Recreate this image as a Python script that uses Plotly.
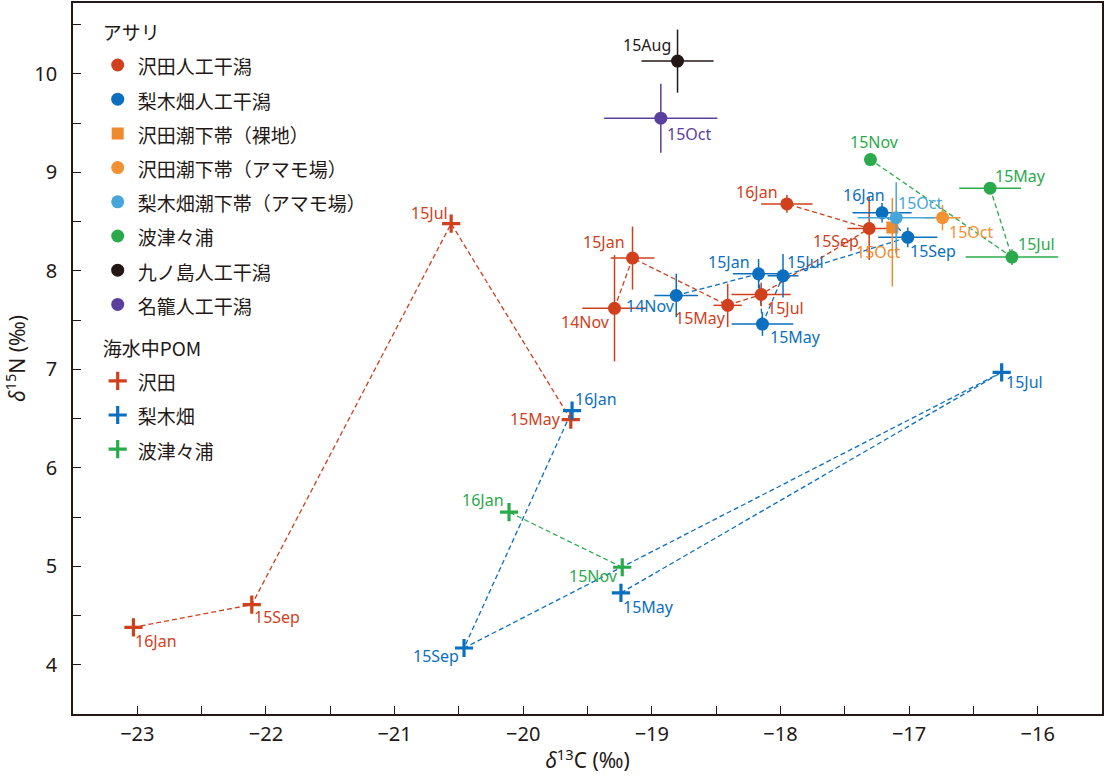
import plotly.graph_objects as go

# ---------------- data (δ13C, δ15N) ----------------
# アサリ (clams)
sawada_dates = ["14Nov", "15Jan", "15May", "15Jul", "15Sep", "16Jan"]
sawada_c = [-19.29, -19.15, -18.41, -18.15, -17.31, -17.95]
sawada_n = [7.62, 8.13, 7.65, 7.76, 8.43, 8.68]
sawada_c_err = [0.25, 0.17, 0.11, 0.23, 0.17, 0.20]
sawada_n_err = [0.54, 0.32, 0.22, 0.12, 0.32, 0.09]

nashi_dates = ["14Nov", "15Jan", "15May", "15Jul", "15Sep", "16Jan"]
nashi_c = [-18.81, -18.17, -18.14, -17.98, -17.01, -17.21]
nashi_n = [7.75, 7.97, 7.46, 7.95, 8.34, 8.59]
nashi_c_err = [0.17, 0.20, 0.24, 0.12, 0.23, 0.23]
nashi_n_err = [0.22, 0.15, 0.12, 0.22, 0.10, 0.10]

sawada_bare_dates = ["15Oct"]
sawada_bare_c = [-17.13]
sawada_bare_n = [8.44]
sawada_bare_c_err = [0.05]
sawada_bare_n_err_plus = [0.30]
sawada_bare_n_err_minus = [0.60]

sawada_eel_dates = ["15Oct"]
sawada_eel_c = [-16.74]
sawada_eel_n = [8.54]
sawada_eel_c_err = [0.14]
sawada_eel_n_err = [0.13]

nashi_eel_dates = ["15Oct"]
nashi_eel_c = [-17.10]
nashi_eel_n = [8.54]
nashi_eel_c_err = [0.30]
nashi_eel_n_err = [0.36]

hatsu_dates = ["15May", "15Jul", "15Nov"]
hatsu_c = [-16.37, -16.20, -17.30]
hatsu_n = [8.84, 8.14, 9.13]
hatsu_c_err = [0.24, 0.36, 0.0]
hatsu_n_err = [0.0, 0.08, 0.0]

kuno_dates = ["15Aug"]
kuno_c = [-18.80]
kuno_n = [10.13]
kuno_c_err = [0.28]
kuno_n_err = [0.32]

nago_dates = ["15Oct"]
nago_c = [-18.93]
nago_n = [9.55]
nago_c_err = [0.44]
nago_n_err = [0.35]

# 海水中POM
pom_sawada_dates = ["15May", "15Jul", "15Sep", "16Jan"]
pom_sawada_c = [-19.63, -20.56, -22.11, -23.03]
pom_sawada_n = [6.49, 8.48, 4.61, 4.38]

pom_nashi_dates = ["15May", "15Jul", "15Sep", "16Jan"]
pom_nashi_c = [-19.24, -16.28, -20.46, -19.62]
pom_nashi_n = [4.73, 6.97, 4.17, 6.58]

pom_hatsu_dates = ["15Nov", "16Jan"]
pom_hatsu_c = [-19.23, -20.11]
pom_hatsu_n = [4.99, 5.55]

# ---------------- styles ----------------
RED = "#D0401C"
BLUE = "#0B6FBF"
ORANGE_SQ = "#F08A2E"
ORANGE = "#F39235"
LBLUE = "#46A6D9"
GREEN = "#2BAA4C"
BLACK = "#231815"
PURPLE = "#5B3F9E"

# label offsets in px (dx right, dy up) per point
off_sawada = [(-29, -14), (-29, 16), (-27, -13), (24, -14), (-33, -12), (-30, 12)]
off_nashi = [(-26, -11), (-30, 12), (33, -13), (22, 14), (25, -14), (-18, 18)]
off_sawada_bare = [(-14, -24)]
off_sawada_eel = [(28, -14)]
off_nashi_eel = [(24, 15)]
off_hatsu = [(30, 12), (25, 13), (4, 18)]
off_kuno = [(-31, 16)]
off_nago = [(28, -16)]
off_pom_sawada = [(-35, 1), (-22, 11), (25, -12), (23, -14)]
off_pom_nashi = [(28, -14), (23, -10), (-28, -8), (24, 12)]
off_pom_hatsu = [(-29, -9), (-26, 12)]

LEG_FS = 19


def leg(t):
    return f'<span style="font-size:{LEG_FS}px">{t}</span>'


fig = go.Figure()
annotations = []

G1 = "asari"
G2 = "pom"
G1_TITLE = dict(text=leg("アサリ"), font=dict(size=24, color="#231815"))
G2_TITLE = dict(text=leg("海水中POM"), font=dict(size=24, color="#231815"))


def add_line(c, n, color, group, gtitle):
    fig.add_trace(go.Scatter(
        x=c, y=n, mode="lines", showlegend=False, hoverinfo="skip",
        legendgroup=group, legendgrouptitle=gtitle,
        line=dict(color=color, width=1.3, dash="5px,3px")))


def add_labels(c, n, dates, offs, color):
    for xi, yi, d, (dx, dy) in zip(c, n, dates, offs):
        annotations.append(dict(
            x=xi, y=yi, text=d, showarrow=False, xanchor="center", yanchor="middle",
            xshift=dx, yshift=dy, font=dict(size=16, color=color,
                                             family="Noto Sans, Noto Sans CJK JP")))


def add_clam(name, c, n, ce, ne, color, symbol="circle", ne_minus=None):
    ey = dict(type="data", array=ne, color=color, thickness=1.5, width=0)
    if ne_minus is not None:
        ey["symmetric"] = False
        ey["arrayminus"] = ne_minus
    fig.add_trace(go.Scatter(
        x=c, y=n, mode="markers", name=leg(name),
        legendgroup=G1, legendgrouptitle=G1_TITLE,
        marker=dict(color=color, size=13 if symbol == "circle" else 12, symbol=symbol,
                    line=dict(width=0)),
        error_x=dict(type="data", array=ce, color=color, thickness=1.5, width=0),
        error_y=ey))


def add_pom(name, c, n, color):
    fig.add_trace(go.Scatter(
        x=c, y=n, mode="markers", name=leg(name),
        legendgroup=G2, legendgrouptitle=G2_TITLE,
        marker=dict(symbol="cross-thin", size=13, color=color,
                    line=dict(width=3.2, color=color))))


# lines (beneath markers)
add_line(sawada_c, sawada_n, RED, G1, G1_TITLE)
add_line(nashi_c, nashi_n, BLUE, G1, G1_TITLE)
add_line(hatsu_c, hatsu_n, GREEN, G1, G1_TITLE)
add_line(pom_sawada_c, pom_sawada_n, RED, G2, G2_TITLE)
add_line(pom_nashi_c, pom_nashi_n, BLUE, G2, G2_TITLE)
add_line(pom_hatsu_c, pom_hatsu_n, GREEN, G2, G2_TITLE)

# clam markers
add_clam("沢田人工干潟", sawada_c, sawada_n, sawada_c_err, sawada_n_err, RED)
add_clam("梨木畑人工干潟", nashi_c, nashi_n, nashi_c_err, nashi_n_err, BLUE)
add_clam("沢田潮下帯（裸地）", sawada_bare_c, sawada_bare_n, sawada_bare_c_err,
         sawada_bare_n_err_plus, ORANGE_SQ, symbol="square", ne_minus=sawada_bare_n_err_minus)
add_clam("沢田潮下帯（アマモ場）", sawada_eel_c, sawada_eel_n, sawada_eel_c_err, sawada_eel_n_err, ORANGE)
add_clam("梨木畑潮下帯（アマモ場）", nashi_eel_c, nashi_eel_n, nashi_eel_c_err, nashi_eel_n_err, LBLUE)
add_clam("波津々浦", hatsu_c, hatsu_n, hatsu_c_err, hatsu_n_err, GREEN)
add_clam("九ノ島人工干潟", kuno_c, kuno_n, kuno_c_err, kuno_n_err, BLACK)
add_clam("名籠人工干潟", nago_c, nago_n, nago_c_err, nago_n_err, PURPLE)

# POM markers
add_pom("沢田", pom_sawada_c, pom_sawada_n, RED)
add_pom("梨木畑", pom_nashi_c, pom_nashi_n, BLUE)
add_pom("波津々浦", pom_hatsu_c, pom_hatsu_n, GREEN)

# labels
add_labels(sawada_c, sawada_n, sawada_dates, off_sawada, RED)
add_labels(nashi_c, nashi_n, nashi_dates, off_nashi, BLUE)
add_labels(sawada_bare_c, sawada_bare_n, sawada_bare_dates, off_sawada_bare, ORANGE_SQ)
add_labels(sawada_eel_c, sawada_eel_n, sawada_eel_dates, off_sawada_eel, ORANGE)
add_labels(nashi_eel_c, nashi_eel_n, nashi_eel_dates, off_nashi_eel, LBLUE)
add_labels(hatsu_c, hatsu_n, hatsu_dates, off_hatsu, GREEN)
add_labels(kuno_c, kuno_n, kuno_dates, off_kuno, BLACK)
add_labels(nago_c, nago_n, nago_dates, off_nago, PURPLE)
add_labels(pom_sawada_c, pom_sawada_n, pom_sawada_dates, off_pom_sawada, RED)
add_labels(pom_nashi_c, pom_nashi_n, pom_nashi_dates, off_pom_nashi, BLUE)
add_labels(pom_hatsu_c, pom_hatsu_n, pom_hatsu_dates, off_pom_hatsu, GREEN)

axis_common = dict(
    showline=True, linecolor="#231815", linewidth=1.5, mirror=True,
    ticks="inside", ticklen=8, tickwidth=1.2, tickcolor="#231815",
    showgrid=False, zeroline=False, automargin=False,
    tickfont=dict(size=20, color="#231815", family="Noto Sans, Noto Sans CJK JP"),
    minor=dict(dtick=0.5, ticks="inside", ticklen=8, tickwidth=1.2, tickcolor="#231815",
               showgrid=False),
)

fig.update_layout(
    width=1106, height=781,
    margin=dict(l=73, r=4, t=3, b=67),
    paper_bgcolor="white", plot_bgcolor="white",
    font=dict(family="Noto Sans CJK JP, Noto Sans", color="#231815"),
    xaxis=dict(range=[-23.5, -15.5], dtick=1, tick0=-23,
               title=dict(text="<i>δ</i><sup>13</sup>C (‰)", standoff=8,
                          font=dict(size=21, family="Noto Sans, Noto Sans CJK JP")),
               ticklabelstandoff=1, **axis_common),
    yaxis=dict(range=[3.5, 10.72], dtick=1, tick0=4,
               title=dict(text="<i>δ</i><sup>15</sup>N (‰)", standoff=6,
                          font=dict(size=21, family="Noto Sans, Noto Sans CJK JP")),
               ticklabelstandoff=10, **axis_common),
    legend=dict(x=0.024, y=0.992, xanchor="left", yanchor="top",
                bgcolor="rgba(0,0,0,0)", font=dict(size=24, color="#231815"),
                tracegroupgap=8, itemclick=False),
    annotations=annotations,
    showlegend=True,
)

fig.write_html("out.html", config={"displayModeBar": False},
               post_script="document.body.style.margin='0';document.body.style.overflow='hidden';")
